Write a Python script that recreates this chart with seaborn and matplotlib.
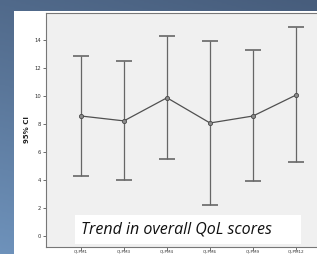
import numpy as np
import matplotlib
matplotlib.use("Agg")
import matplotlib.pyplot as plt
import seaborn as sns
from matplotlib.colors import LinearSegmentedColormap
from matplotlib.patches import Rectangle

categories = ["QLPM1", "QLPM3", "QLPM4", "QLPM6", "QLPM9", "QLPM12"]
means = [8.55, 8.2, 9.85, 8.05, 8.55, 10.05]
upper = [12.8, 12.5, 14.25, 13.9, 13.25, 14.9]
lower = [4.3, 3.95, 5.5, 2.2, 3.9, 5.25]
yticks = [0, 2, 4, 6, 8, 10, 12, 14]

sns.set_style("white")
W, H = 317, 254
fig = plt.figure(figsize=(W / 100, H / 100), dpi=100)

# background gradient
bg = fig.add_axes([0, 0, 1, 1])
cmap = LinearSegmentedColormap.from_list("bg", ["#475d7c", "#5a7699", "#6e92bb"])
yy, xx = np.mgrid[0:1:200j, 0:1:200j]
grad = 0.75 * yy + 0.25 * (1 - xx)
bg.imshow(grad, cmap=cmap, extent=[0, 1, 0, 1], aspect="auto", origin="upper")
bg.set_axis_off()

# white panel
panel = fig.add_axes([14 / W, 0, 1 - 14 / W, 1 - 11 / H])
panel.set_facecolor("white")
panel.set_xticks([]); panel.set_yticks([])
for s in panel.spines.values():
    s.set_visible(False)

# main axes
left_px, top_px, bot_px, right_px = 46, 13, 247, 331
ax = fig.add_axes([left_px / W, 1 - bot_px / H, (right_px - left_px) / W, (bot_px - top_px) / H])
ax.set_facecolor("#f0f0f0")
x = np.arange(len(categories))
m = np.array(means)
err = np.vstack([m - np.array(lower), np.array(upper) - m])
_, caps, bars = ax.errorbar(x, m, yerr=err, fmt="none", ecolor="#666666", elinewidth=0.9,
                            capsize=5.5, capthick=1.2, zorder=2)
for c in caps:
    c.set_color("#999999")
sns.pointplot(x=categories, y=means, ax=ax, color="#505050", marker="o",
              linewidth=0.9, markersize=3.0, errorbar=None)
for ln in ax.lines:
    if ln.get_marker() == "o":
        ln.set_markerfacecolor("#8c8c8c")
        ln.set_markeredgecolor("#4a4a4a")
        ln.set_markeredgewidth(0.6)
ax.set_xlim(-0.81, 5.81)
ax.set_ylim(-0.8, 15.9)
ax.set_yticks(yticks)
ax.tick_params(axis="y", labelsize=3.8, length=2.5, width=0.6, colors="#555555",
               labelcolor="#333333", pad=1, left=True)
ax.tick_params(axis="x", labelsize=3.0, length=1.8, width=0.6, colors="#555555",
               labelcolor="#333333", pad=0.3, bottom=True)
ax.set_ylabel("95% CI", fontsize=5, fontweight="bold", labelpad=3, color="#222222")
ax.set_xlabel("")
for s in ax.spines.values():
    s.set_color("#777777")
    s.set_linewidth(0.8)

# caption box
fig.patches.append(Rectangle((75 / W, 1 - 244 / H), (301 - 75) / W, (244 - 215) / H,
                             transform=fig.transFigure, facecolor="white",
                             edgecolor="none", zorder=5))
fig.text(81 / W, 1 - 230 / H, "Trend in overall QoL scores", family="Open Sans",
         style="italic", fontsize=11.5, color="#111111", va="center", ha="left",
         zorder=6)

fig.savefig("out.png", dpi=100)
